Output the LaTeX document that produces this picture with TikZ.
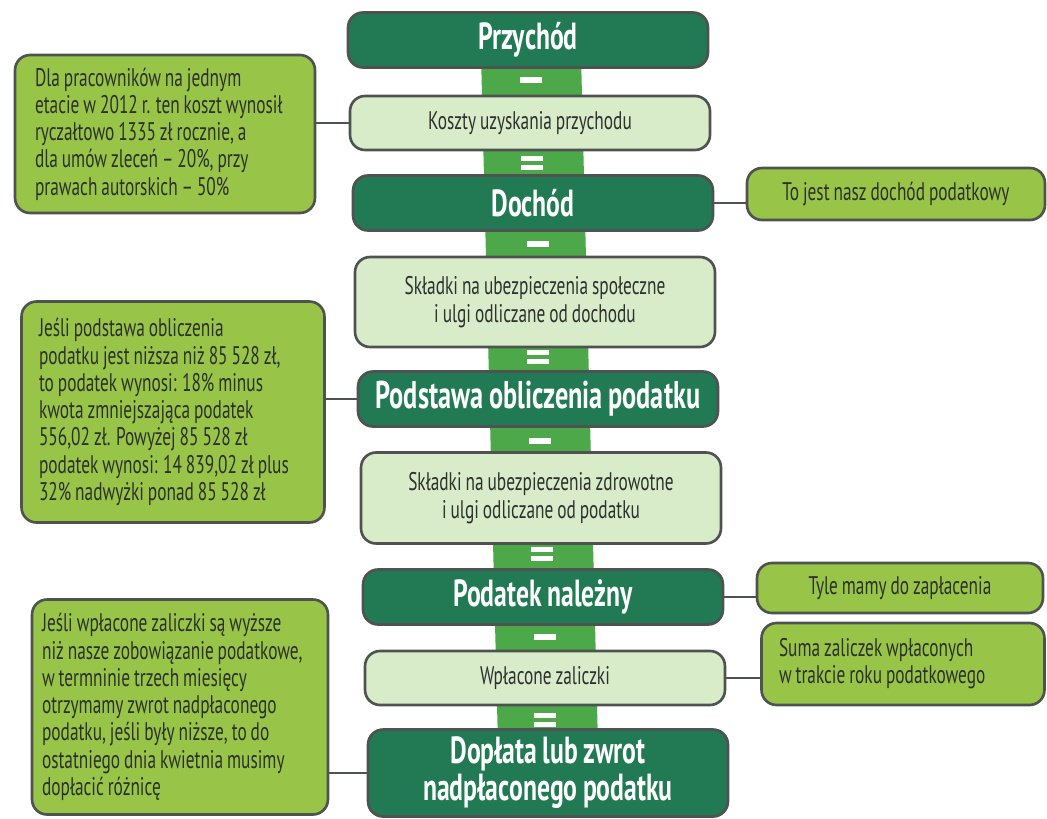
\documentclass[tikz,border=0pt]{standalone}
\usepackage{fontspec}
\setmainfont{PT Sans}[FakeStretch=0.68, WordSpace=0.85]
\definecolor{darkgreen}{RGB}{33,122,84}
\definecolor{bargreen}{RGB}{76,168,72}
\definecolor{palegreen}{RGB}{216,236,201}
\definecolor{limegreen}{RGB}{152,197,72}
\definecolor{edgegray}{RGB}{78,82,80}
\definecolor{textgray}{RGB}{45,48,46}
\tikzset{
    mainbox/.style={draw=edgegray, line width=1.5pt, rounded corners=0.3cm, fill=darkgreen, text=white,
        font=\bfseries\fontsize{21.5}{21}\selectfont, minimum width=7.2cm, minimum height=1.1cm, align=center},
    subbox/.style={draw=edgegray, line width=1.5pt, rounded corners=0.3cm, fill=palegreen, text=textgray,
        font=\fontsize{14.5}{16}\selectfont, minimum width=7.2cm, minimum height=1.08cm, align=center},
    notebox/.style={draw=edgegray, line width=1.5pt, rounded corners=0.3cm, fill=limegreen, text=textgray,
        font=\fontsize{14.5}{15.5}\selectfont, inner xsep=0.4cm, align=flush left},
    link/.style={draw=edgegray, line width=1.6pt}
}
\newcommand{\minussign}[2]{
    \fill[white] ({#1-11},{#2-3}) rectangle ({#1+11},{#2+3});
}
\newcommand{\equalssign}[2]{
    \fill[white] ({#1-11},{#2-7}) rectangle ({#1+11},{#2-2});
    \fill[white] ({#1-11},{#2+2}) rectangle ({#1+11},{#2+7});
}

\begin{document}
\begin{tikzpicture}[x=0.02cm, y=-0.02cm]
    \useasboundingbox (0,0) rectangle (1047,818);

    % Bar
    \fill[bargreen] (481,55) -- (581,55) -- (598,745) -- (498,745) -- cycle;

    % Nodes
    \node[mainbox] (przychod) at (528,40) {Przychód};
    \node[subbox] (koszty) at (530,123) {Koszty uzyskania przychodu};
    \node[mainbox] (dochod) at (533,203) {Dochód};
    \node[subbox, minimum height=1.8cm] (spoleczne) at (535,302) {Składki na ubezpieczenia społeczne\\ i ulgi odliczane od dochodu};
    \node[mainbox, font=\bfseries\fontsize{22}{22}\selectfont] (podstawa) at (538,399) {Podstawa obliczenia podatku};
    \node[subbox, minimum height=1.82cm] (zdrowotne) at (541,498) {Składki na ubezpieczenia zdrowotne\\ i ulgi odliczane od podatku};
    \node[mainbox] (nalezny) at (543,597) {Podatek należny};
    \node[subbox] (zaliczki) at (545,678) {Wpłacone zaliczki};
    \node[mainbox, minimum height=1.74cm] (doplata) at (548,773) {Dopłata lub zwrot\\ nadpłaconego podatku};

    \node[notebox, text width=5.2cm, minimum height=3.16cm] (kosztnote) at (165,134) {Dla pracowników na jednym\\ etacie w 2012 r. ten koszt wynosił\\ ryczałtowo 1335 zł rocznie, a\\ dla umów zleceń -- 20\%, przy\\ prawach autorskich -- 50\%};
    \node[notebox, minimum width=5.96cm, minimum height=1.04cm, align=center] (dochodnote) at (896,194) {To jest nasz dochód podatkowy};
    \node[notebox, inner xsep=0.35cm, text width=5.36cm, minimum height=4.42cm] (podstawanote) at (173,412) {Jeśli podstawa obliczenia\\ podatku jest niższa niż 85 528 zł,\\ to podatek wynosi: 18\% minus\\ kwota zmniejszająca podatek\\ 556,02 zł. Powyżej 85 528 zł\\ podatek wynosi: 14 839,02 zł plus\\ 32\% nadwyżki ponad 85 528 zł};
    \node[notebox, minimum width=5.72cm, minimum height=1.0cm, align=center] (naleznynote) at (900,588) {Tyle mamy do zapłacenia};
    \node[notebox, inner xsep=0.35cm, text width=4.96cm, minimum height=1.64cm] (zaliczkinote) at (903,664) {Suma zaliczek wpłaconych\\ w trakcie roku podatkowego};
    \node[notebox, inner xsep=0.2cm, text width=5.52cm, minimum height=4.3cm] (doplatanote) at (180,707) {Jeśli wpłacone zaliczki są wyższe\\ niż nasze zobowiązanie podatkowe,\\ w termninie trzech miesięcy\\ otrzymamy zwrot nadpłaconego\\ podatku, jeśli były niższe, to do\\ ostatniego dnia kwietnia musimy\\ dopłacić różnicę};

    % Signs
    \minussign{531}{80}
    \equalssign{532}{163}
    \minussign{538}{244}
    \equalssign{538}{357}
    \minussign{540}{441}
    \equalssign{542}{554}
    \minussign{545}{637}
    \equalssign{545}{720}

    % Edges
    \draw[link] (koszty.west) -- (koszty.west -| kosztnote.east);
    \draw[link] (dochod.east) -- (dochod.east -| dochodnote.west);
    \draw[link] (podstawa.west) -- (podstawa.west -| podstawanote.east);
    \draw[link] (nalezny.east) -- (nalezny.east -| naleznynote.west);
    \draw[link] (zaliczki.east) -- (zaliczki.east -| zaliczkinote.west);
    \draw[link] (doplata.west) -- (doplata.west -| doplatanote.east);
\end{tikzpicture}
\end{document}
